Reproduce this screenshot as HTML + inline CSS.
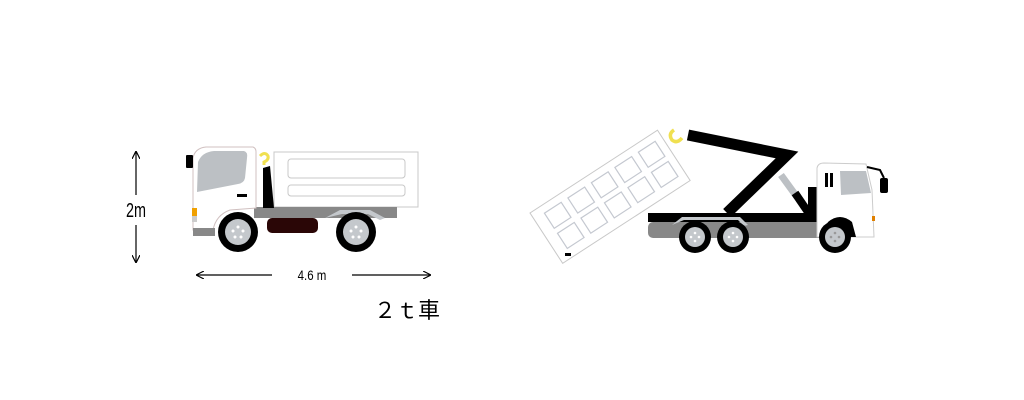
<!DOCTYPE html>
<html><head><meta charset="utf-8"><style>
html,body{margin:0;padding:0;background:#fff;}
svg{display:block}
</style></head><body>
<svg width="1024" height="400" viewBox="0 0 1024 400" xmlns="http://www.w3.org/2000/svg">
<defs>
<marker id="ah" markerWidth="8" markerHeight="8" refX="7" refY="4" orient="auto" markerUnits="userSpaceOnUse">
<path d="M0,0 L8,4 L0,8" fill="none" stroke="#000" stroke-width="1.2"/>
</marker>
</defs>
<line x1="136" y1="195" x2="136" y2="152" stroke="#000" stroke-width="1.2" marker-end="url(#ah)"/>
<line x1="136" y1="225" x2="136" y2="262" stroke="#000" stroke-width="1.2" marker-end="url(#ah)"/>
<text x="136" y="217" font-family="Liberation Sans, sans-serif" font-size="20" text-anchor="middle" transform="translate(136,0) scale(0.72,1) translate(-136,0)">2m</text>
<line x1="272" y1="275" x2="197" y2="275" stroke="#000" stroke-width="1.2" marker-end="url(#ah)"/>
<line x1="352" y1="275" x2="430" y2="275" stroke="#000" stroke-width="1.2" marker-end="url(#ah)"/>
<text x="312" y="280" font-family="Liberation Sans, sans-serif" font-size="14" text-anchor="middle" transform="translate(312,0) scale(0.82,1) translate(-312,0)">4.6 m</text>
<text x="374" y="318" font-family="Liberation Sans, 'Noto Sans CJK JP', sans-serif" font-size="22">２ｔ車</text>

<rect x="274" y="152" width="144" height="55" fill="#fff" stroke="#c8c8c8" stroke-width="1"/>
<rect x="288" y="159" width="117" height="19" rx="3" fill="#fff" stroke="#c8c8c8"/>
<rect x="288" y="185" width="117" height="11" rx="3" fill="#fff" stroke="#c8c8c8"/>
<rect x="254" y="207" width="143" height="11" fill="#888"/>
<path d="M325,218 L340,210 L370,210 L385,218 L380,220 L368,214 L342,214 Z" fill="#c4c8cc"/>
<polygon points="263,168 270,166 274,208 263,208" fill="#000"/>
<path d="M260,156 q5,-5 8,0 q1,4 -4,6 l0,3" fill="none" stroke="#f0e050" stroke-width="3"/>
<rect x="267" y="218" width="51" height="15" rx="5" fill="#2a0606"/>
<path d="M193,230 L193,158 Q195,148 206,147 L253,147 Q256,148 256,152 L256,208 L230,210 Q216,215 213,230 Z" fill="#fff" stroke="#d0c0c0" stroke-width="1"/>
<path d="M197,192 L198,162 Q202,152 214,151 L244,151 Q248,152 247,158 L245,178 Q244,183 238,184 Z" fill="#bcc0c4"/>
<rect x="237" y="194" width="10" height="3" fill="#000"/>
<rect x="186" y="155" width="7" height="13" rx="1" fill="#000"/>
<rect x="192" y="208" width="5" height="8" fill="#f0a000"/>
<rect x="192" y="216" width="5" height="6" fill="#ccc"/>
<rect x="193" y="228" width="22" height="8" fill="#888"/>
<circle cx="238" cy="232" r="20" fill="#000"/>
<circle cx="238" cy="232" r="13" fill="#c4c8cc"/>
<circle cx="356" cy="232" r="20" fill="#000"/>
<circle cx="356" cy="232" r="13" fill="#c4c8cc"/>
<g fill="#fff"><circle cx="238" cy="227" r="1.5"/><circle cx="243" cy="231" r="1.5"/><circle cx="241" cy="237" r="1.5"/><circle cx="235" cy="237" r="1.5"/><circle cx="233" cy="231" r="1.5"/>
<circle cx="356" cy="227" r="1.5"/><circle cx="361" cy="231" r="1.5"/><circle cx="359" cy="237" r="1.5"/><circle cx="353" cy="237" r="1.5"/><circle cx="351" cy="231" r="1.5"/></g>

<g transform="translate(530,213) rotate(-33)">
<rect x="0" y="0" width="152" height="60" fill="#fff" stroke="#c8c8c8"/>
<g fill="none" stroke="#c4c8d0" stroke-width="1.2">
<rect x="12" y="8" width="20" height="18"/><rect x="40" y="8" width="20" height="18"/><rect x="68" y="8" width="20" height="18"/><rect x="96" y="8" width="20" height="18"/><rect x="124" y="8" width="20" height="18"/>
<rect x="12" y="32" width="20" height="18"/><rect x="40" y="32" width="20" height="18"/><rect x="68" y="32" width="20" height="18"/><rect x="96" y="32" width="20" height="18"/><rect x="124" y="32" width="20" height="18"/>
</g>
</g>
<rect x="565" y="253" width="6" height="3" fill="#000"/>
<rect x="648" y="213" width="200" height="9" fill="#000"/>
<rect x="648" y="222" width="205" height="16" rx="5" fill="#888"/>
<path d="M672,225 L682,217 L740,217 L748,225 L744,226 L738,220 L684,220 Z" fill="#c4c8cc"/>
<polyline points="688,135 787,155 727,213" fill="none" stroke="#000" stroke-width="11" stroke-linejoin="miter"/>
<line x1="781" y1="175" x2="797" y2="197" stroke="#bcc0c4" stroke-width="7"/>
<line x1="795" y1="193" x2="810" y2="215" stroke="#000" stroke-width="8"/>
<rect x="808" y="187" width="9" height="27" fill="#000"/>
<path d="M674,130 q-6,4 -2,10 q5,4 10,-2" fill="none" stroke="#f0e050" stroke-width="3.5"/>
<path d="M817,237 L817,168 Q818,163 824,163 L866,164 L872,190 L874,237 Z" fill="#fff" stroke="#ccc"/>
<path d="M840,171 L866,171 L871,193 L841,195 Z" fill="#bcc0c4"/>
<rect x="825" y="173" width="3" height="14" fill="#000"/><rect x="830" y="173" width="3" height="14" fill="#000"/>
<path d="M867,167 L880,170 L884,178" fill="none" stroke="#000" stroke-width="2"/>
<rect x="880" y="178" width="8" height="15" rx="2" fill="#000"/>
<rect x="872" y="216" width="3" height="5" fill="#e08000"/>
<path d="M828,222 Q840,212 852,222 L856,237 L820,237 Z" fill="#000"/>
<circle cx="695" cy="237" r="16" fill="#000"/><circle cx="695" cy="237" r="10" fill="#c4c8cc"/>
<circle cx="733" cy="237" r="16" fill="#000"/><circle cx="733" cy="237" r="10" fill="#c4c8cc"/>
<circle cx="835" cy="237" r="16" fill="#000"/><circle cx="835" cy="237" r="10" fill="#c4c8cc"/>
<g fill="#fff"><circle cx="695" cy="233" r="1.3"/><circle cx="699" cy="237" r="1.3"/><circle cx="695" cy="241" r="1.3"/><circle cx="691" cy="237" r="1.3"/>
<circle cx="733" cy="233" r="1.3"/><circle cx="737" cy="237" r="1.3"/><circle cx="733" cy="241" r="1.3"/><circle cx="729" cy="237" r="1.3"/></g>
<g fill="#999"><circle cx="835" cy="233" r="1.3"/><circle cx="839" cy="237" r="1.3"/><circle cx="835" cy="241" r="1.3"/><circle cx="831" cy="237" r="1.3"/></g>
</svg>
</body></html>
